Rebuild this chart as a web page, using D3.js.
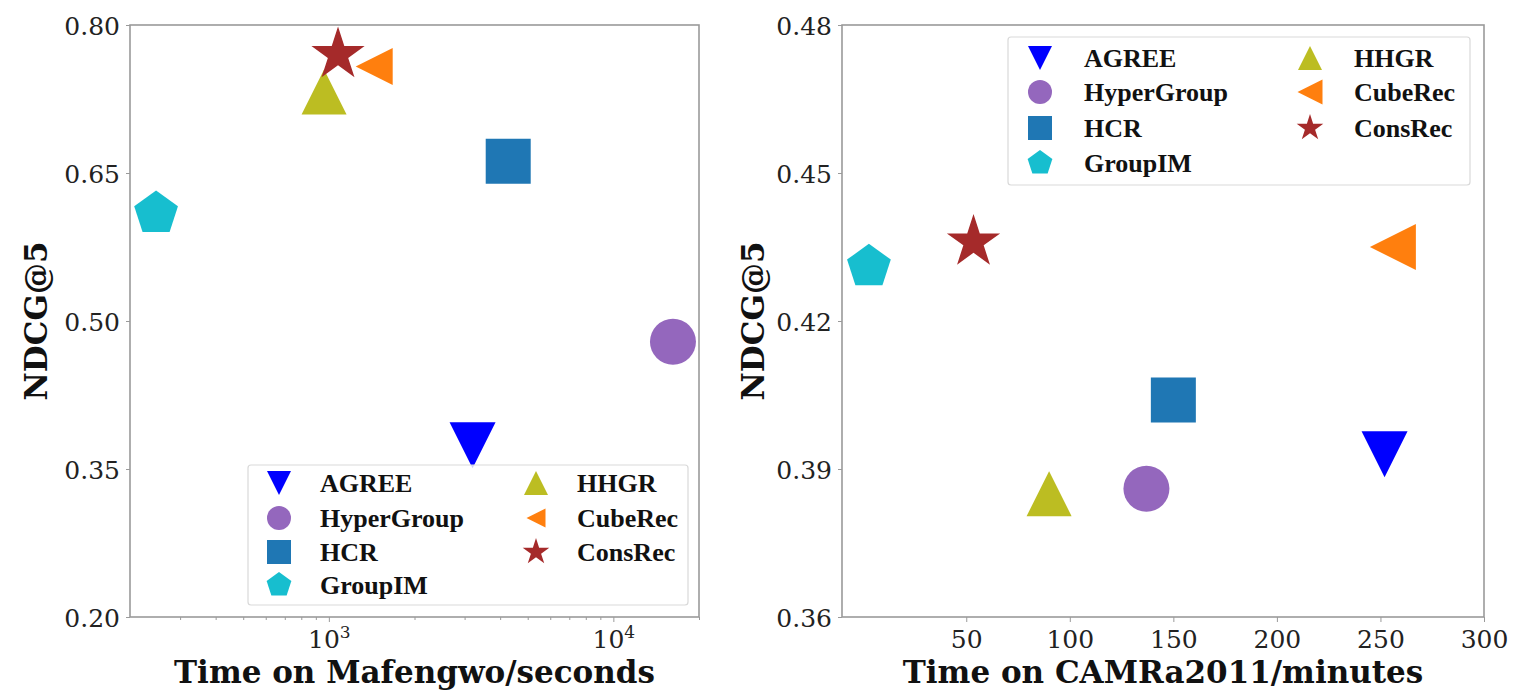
<!DOCTYPE html>
<html>
<head>
<meta charset="utf-8">
<script src="https://cdn.jsdelivr.net/npm/d3@7"></script>
<style>
  body { margin: 0; background: #fff; }
  .tick text { font-family: "DejaVu Serif", serif; font-size: 25px; fill: #222; }
  .title { font-family: "DejaVu Serif", serif; font-weight: bold; font-size: 31px; fill: #111; }
  .leg { font-family: "Liberation Serif", serif; font-weight: bold; font-size: 26px; fill: #111; }
</style>
</head>
<body>
<div id="chart"></div>
<script>
// methods and their markers
const methods = ["AGREE", "HyperGroup", "HCR", "GroupIM", "HHGR", "CubeRec", "ConsRec"];
const symbols = ["triDown", "circle", "square", "pentagon", "triUp", "triLeft", "star"];
const colors = ["#0000ff", "#9467bd", "#1f77b4", "#17becf", "#bcbd22", "#ff7f0e", "#a52a2a"];

// Mafengwo: time (seconds, log axis) vs NDCG@5
const mafengwoTime = [3200, 16200, 4270, 247, 962, 1443, 1077];
const mafengwoNdcg = [0.374, 0.479, 0.662, 0.609, 0.732, 0.758, 0.770];
// CAMRa2011: time (minutes) vs NDCG@5
const camraTime = [252, 137, 150, 3, 90, 256, 53.5];
const camraNdcg = [0.393, 0.386, 0.404, 0.431, 0.385, 0.435, 0.436];

const mafengwoYTicks = [0.20, 0.35, 0.50, 0.65, 0.80];
const camraYTicks = [0.36, 0.39, 0.42, 0.45, 0.48];
const mafengwoXTicks = [1e3, 1e4];
const mafengwoXMinor = [300, 400, 500, 600, 700, 800, 900, 2000, 3000, 4000, 5000, 6000, 7000, 8000, 9000, 20000];
const camraXTicks = [50, 100, 150, 200, 250, 300];

const width = 1519, height = 695;
const svg = d3.select("#chart").append("svg")
  .attr("width", width).attr("height", height);

// marker shapes, r = half size
function shape(type, r) {
  const pts = [];
  if (type === "circle") {
    return `M${-r},0A${r},${r} 0 1,0 ${r},0A${r},${r} 0 1,0 ${-r},0Z`;
  }
  if (type === "square") return `M${-r},${-r}H${r}V${r}H${-r}Z`;
  if (type === "triUp") return `M0,${-r}L${-r},${r}L${r},${r}Z`;
  if (type === "triDown") return `M0,${r}L${-r},${-r}L${r},${-r}Z`;
  if (type === "triLeft") return `M${-r},0L${r},${-r}L${r},${r}Z`;
  if (type === "pentagon") {
    for (let i = 0; i < 5; i++) {
      const a = -Math.PI / 2 + i * 2 * Math.PI / 5;
      pts.push([r * Math.cos(a), r * Math.sin(a)]);
    }
  }
  if (type === "star") {
    for (let i = 0; i < 10; i++) {
      const a = -Math.PI / 2 + i * Math.PI / 5;
      const rr = i % 2 === 0 ? r : r * 0.381966;
      pts.push([rr * Math.cos(a), rr * Math.sin(a)]);
    }
  }
  return "M" + pts.map(p => p[0].toFixed(2) + "," + p[1].toFixed(2)).join("L") + "Z";
}

function panel(cfg) {
  const g = svg.append("g");
  const x = cfg.x, y = cfg.y;

  // frame
  g.append("rect")
    .attr("x", cfg.x0).attr("y", cfg.y0)
    .attr("width", cfg.x1 - cfg.x0).attr("height", cfg.y1 - cfg.y0)
    .attr("fill", "none").attr("stroke", "#9a9a9a").attr("stroke-width", 1.6);

  // y axis
  const yAxisG = g.append("g").attr("transform", `translate(${cfg.x0},0)`)
    .call(d3.axisLeft(y).tickValues(cfg.yTicks).tickFormat(d3.format(".2f")).tickSize(4).tickPadding(6));
  yAxisG.select(".domain").remove();
  yAxisG.selectAll(".tick line").attr("stroke", "#9a9a9a");
  yAxisG.selectAll(".tick text").attr("dy", "0.38em");

  // x axis
  const xAxisG = g.append("g").attr("transform", `translate(0,${cfg.y1})`)
    .call(d3.axisBottom(x).tickValues(cfg.xTicks).tickFormat(cfg.xFormat).tickSize(5).tickPadding(8));
  xAxisG.select(".domain").remove();
  xAxisG.selectAll(".tick line").attr("stroke", "#9a9a9a");
  if (cfg.xMinor) {
    const minorG = g.append("g").attr("transform", `translate(0,${cfg.y1})`)
      .call(d3.axisBottom(x).tickValues(cfg.xMinor).tickFormat("").tickSize(3));
    minorG.select(".domain").remove();
    minorG.selectAll(".tick line").attr("stroke", "#9a9a9a");
  }
  if (cfg.superscript) {
    xAxisG.selectAll(".tick text").each(function(d) {
      const t = d3.select(this).text("");
      t.append("tspan").text("10");
      t.append("tspan").attr("dy", "-0.55em").style("font-size", "17px").text(Math.round(Math.log10(d)));
    });
  }

  // points
  g.selectAll("path.pt").data(methods).enter().append("path")
    .attr("class", "pt")
    .attr("transform", (m, i) => `translate(${x(cfg.xs[i])},${y(cfg.ys[i])})`)
    .attr("d", (m, i) => shape(symbols[i], cfg.sizes[symbols[i]]))
    .attr("fill", (m, i) => colors[i]);

  // titles
  g.append("text").attr("class", "title")
    .attr("x", (cfg.x0 + cfg.x1) / 2).attr("y", 683)
    .attr("text-anchor", "middle").text(cfg.xTitle);
  g.append("text").attr("class", "title")
    .attr("transform", `translate(${cfg.yTitleX},${(cfg.y0 + cfg.y1) / 2}) rotate(-90)`)
    .attr("text-anchor", "middle").text("NDCG@5");

  // legend
  const L = cfg.legend;
  g.append("rect")
    .attr("x", L.x).attr("y", L.y).attr("width", L.w).attr("height", L.h)
    .attr("rx", 3).attr("fill", "#fff").attr("fill-opacity", 0.8)
    .attr("stroke", "#d9d9d9").attr("stroke-width", 1.2);
  const items = g.selectAll("g.li").data(methods).enter().append("g")
    .attr("class", "li")
    .attr("transform", (m, i) => {
      const col = i < 4 ? 0 : 1, row = i < 4 ? i : i - 4;
      return `translate(${L.cols[col]},${L.rows[row]})`;
    });
  items.append("path")
    .attr("d", (m, i) => shape(symbols[i], L.sizes[symbols[i]]))
    .attr("fill", (m, i) => colors[i]);
  items.append("text").attr("class", "leg")
    .attr("x", L.textDx).attr("y", 9).text(m => m);
}

panel({
  x0: 130, x1: 699, y0: 25, y1: 617,
  x: d3.scaleLog().domain([200, 20000]).range([130, 699]),
  y: d3.scaleLinear().domain([0.20, 0.80]).range([617, 25]),
  xs: mafengwoTime, ys: mafengwoNdcg,
  yTicks: mafengwoYTicks, xTicks: mafengwoXTicks, xMinor: mafengwoXMinor,
  xFormat: d => d, superscript: true,
  xTitle: "Time on Mafengwo/seconds", yTitleX: 47,
  sizes: { triDown: 23, circle: 23, square: 22.5, pentagon: 23, triUp: 22.5, triLeft: 18.5, star: 28 },
  legend: {
    x: 248, y: 465, w: 440, h: 140,
    cols: [279, 536], rows: [483, 518, 552, 585], textDx: 41,
    sizes: { triDown: 12, circle: 12, square: 12, pentagon: 13, triUp: 12, triLeft: 9.5, star: 14 }
  }
});

panel({
  x0: 842, x1: 1484, y0: 25, y1: 617,
  x: d3.scaleLinear().domain([-10, 300]).range([842, 1484]),
  y: d3.scaleLinear().domain([0.36, 0.48]).range([617, 25]),
  xs: camraTime, ys: camraNdcg,
  yTicks: camraYTicks, xTicks: camraXTicks,
  xFormat: d3.format("d"),
  xTitle: "Time on CAMRa2011/minutes", yTitleX: 764,
  sizes: { triDown: 23, circle: 23, square: 22.5, pentagon: 23, triUp: 22.5, triLeft: 23, star: 28 },
  legend: {
    x: 1008, y: 37, w: 462, h: 148,
    cols: [1040, 1310], rows: [58, 92, 128, 163], textDx: 44,
    sizes: { triDown: 12, circle: 12, square: 12, pentagon: 13, triUp: 12, triLeft: 12.5, star: 14 }
  }
});
</script>
</body>
</html>
